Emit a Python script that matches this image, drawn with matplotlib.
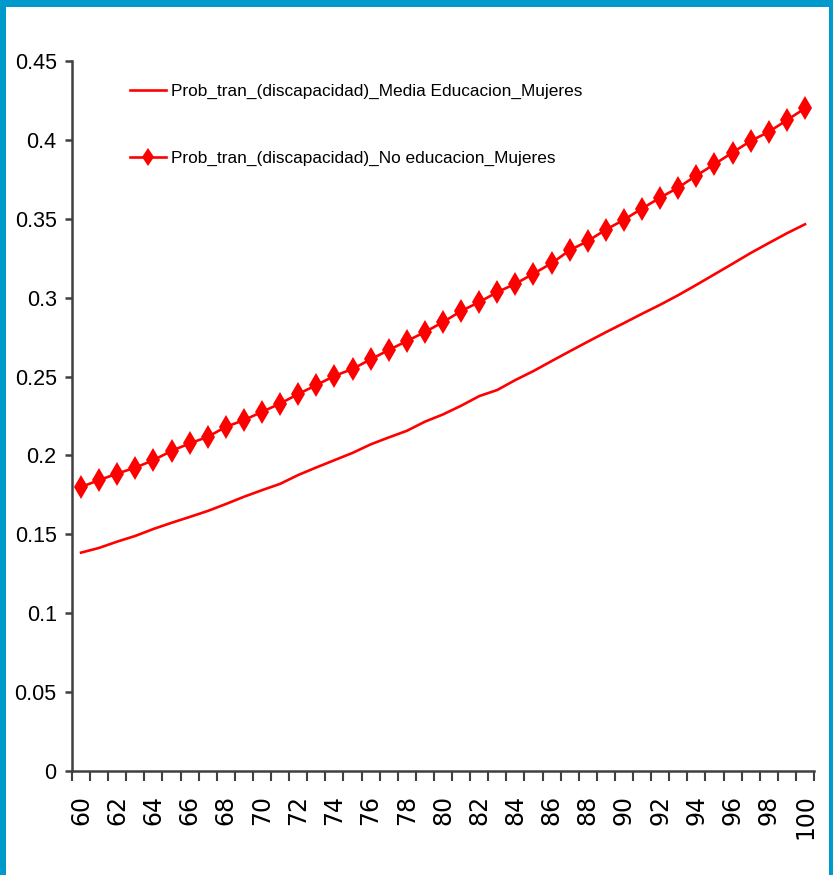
import matplotlib
matplotlib.use("Agg")
import matplotlib.pyplot as plt
from matplotlib.patches import Rectangle
from matplotlib.ticker import FixedLocator, MultipleLocator

# Probabilidad de transición a discapacidad por edad (mujeres)
edades = list(range(60, 101))
media_educacion = [
    0.1384, 0.1414, 0.1454, 0.1490, 0.1534, 0.1573, 0.1610, 0.1648, 0.1692, 0.1738,
    0.1780, 0.1820, 0.1876, 0.1924, 0.1970, 0.2016, 0.2070, 0.2114, 0.2156, 0.2214,
    0.2260, 0.2315, 0.2376, 0.2415, 0.2478, 0.2535, 0.2598, 0.2660, 0.2721, 0.2781,
    0.2839, 0.2898, 0.2955, 0.3016, 0.3081, 0.3148, 0.3215, 0.3283, 0.3346, 0.3408,
    0.3465,
]
no_educacion = [
    0.1800, 0.1844, 0.1885, 0.1923, 0.1970, 0.2029, 0.2076, 0.2118, 0.2181, 0.2224,
    0.2276, 0.2329, 0.2389, 0.2446, 0.2504, 0.2548, 0.2609, 0.2668, 0.2725, 0.2782,
    0.2845, 0.2915, 0.2972, 0.3035, 0.3088, 0.3152, 0.3218, 0.3300, 0.3359, 0.3431,
    0.3494, 0.3565, 0.3634, 0.3698, 0.3774, 0.3846, 0.3920, 0.3993, 0.4051, 0.4125,
    0.4200,
]
etiquetas = [
    "Prob_tran_(discapacidad)_Media Educacion_Mujeres",
    "Prob_tran_(discapacidad)_No educacion_Mujeres",
]
y_ticks = [0, 0.05, 0.1, 0.15, 0.2, 0.25, 0.3, 0.35, 0.4, 0.45]

NARROW = ["Liberation Sans", "DejaVu Sans"]
WIDE = ["DejaVu Sans"]
AZUL = "#0099cc"
GRIS = "#404040"

fig = plt.figure(figsize=(8.33, 8.75), dpi=100)
fig.patch.set_facecolor("white")

# marco azul a la izquierda, arriba y a la derecha
fig.add_artist(Rectangle((0, 0), 6 / 833, 1, transform=fig.transFigure,
                         color=AZUL, lw=0))
fig.add_artist(Rectangle((0, 1 - 7 / 875), 1, 7 / 875, transform=fig.transFigure,
                         color=AZUL, lw=0))
fig.add_artist(Rectangle((1 - 4 / 833, 0), 4 / 833, 1, transform=fig.transFigure,
                         color=AZUL, lw=0))

ax = fig.add_axes([72 / 833, 1 - 771 / 875, (814 - 72) / 833, (771 - 61) / 875])

ax.plot(edades, media_educacion, color="#ff0000", lw=1.9, label=etiquetas[0])
ax.plot(edades, no_educacion, color="#ff0000", lw=1.9, marker="d",
        markersize=12.5, markeredgewidth=0, label=etiquetas[1])

ax.set_xlim(59.5, 100.5)
ax.set_ylim(0, 0.45)

for s in ["top", "right"]:
    ax.spines[s].set_visible(False)
for s in ["left", "bottom"]:
    ax.spines[s].set_color(GRIS)
    ax.spines[s].set_linewidth(1.8)

# eje de categorías: marcas entre categorías, etiquetas en edades pares
ax.xaxis.set_major_locator(FixedLocator(edades[::2]))
ax.xaxis.set_minor_locator(MultipleLocator(1, offset=0.5))
ax.set_xticklabels([str(e) for e in edades[::2]], rotation=90,
                   fontsize=17, family=WIDE)
ax.tick_params(axis="x", which="major", length=0, pad=17)
ax.tick_params(axis="x", which="minor", length=7, width=1.5, color=GRIS)

ax.set_yticks(y_ticks)
ax.set_yticklabels([f"{v:g}" for v in y_ticks], fontsize=15.5, family=NARROW)
ax.tick_params(axis="y", length=5, width=1.8, color=GRIS, pad=6)

ax.legend(loc="upper left", bbox_to_anchor=(0.069, 0.977), frameon=False,
          prop={"family": NARROW, "size": 12.4}, handlelength=2.1,
          handletextpad=0.3, labelspacing=3.0, borderaxespad=0,
          markerscale=0.75)

fig.savefig("out.png", dpi=100, facecolor="white")
